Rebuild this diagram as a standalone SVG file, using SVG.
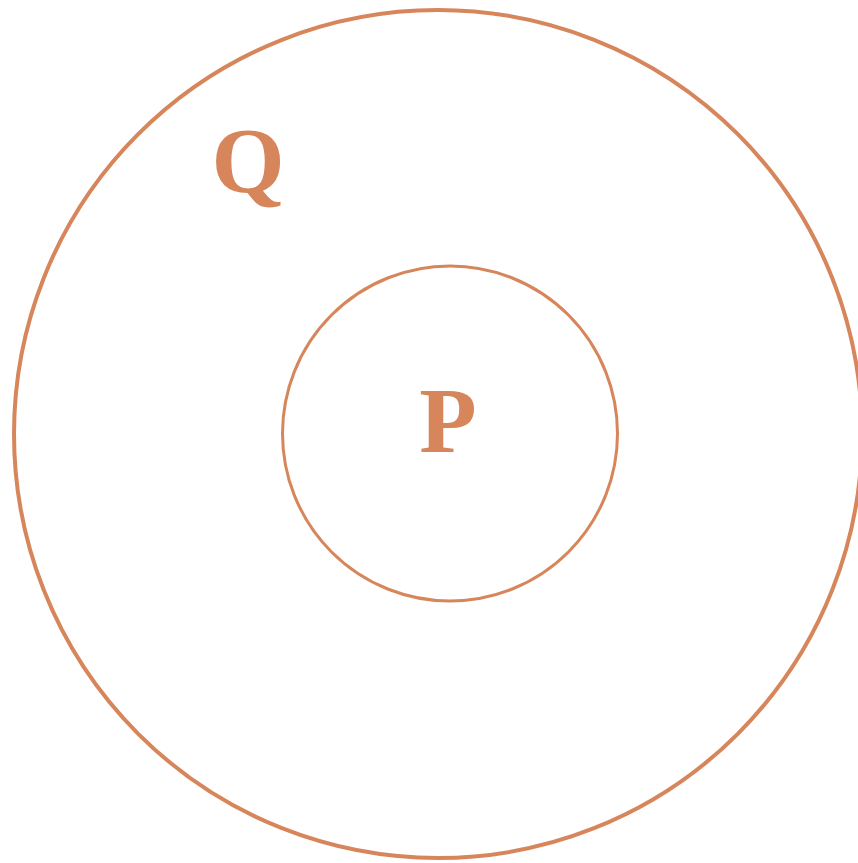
<svg xmlns="http://www.w3.org/2000/svg" width="858" height="863" viewBox="0 0 858 863">
<style>
.ring{fill:none;stroke:#D6865A}
.lbl{fill:#D6865A;text-anchor:middle;font-family:'Liberation Serif',serif;font-weight:bold;font-size:94px}
</style>
<rect width="858" height="863" fill="#fff"/>
<g id="Q">
<circle class="ring" cx="438" cy="434" r="424" stroke-width="4"/>
<text class="lbl" x="248" y="192">Q</text>
</g>
<g id="P">
<circle class="ring" cx="450" cy="433.5" r="167.5" stroke-width="3"/>
<text class="lbl" x="448" y="452">P</text>
</g>
<g id="connectors"></g>
</svg>
